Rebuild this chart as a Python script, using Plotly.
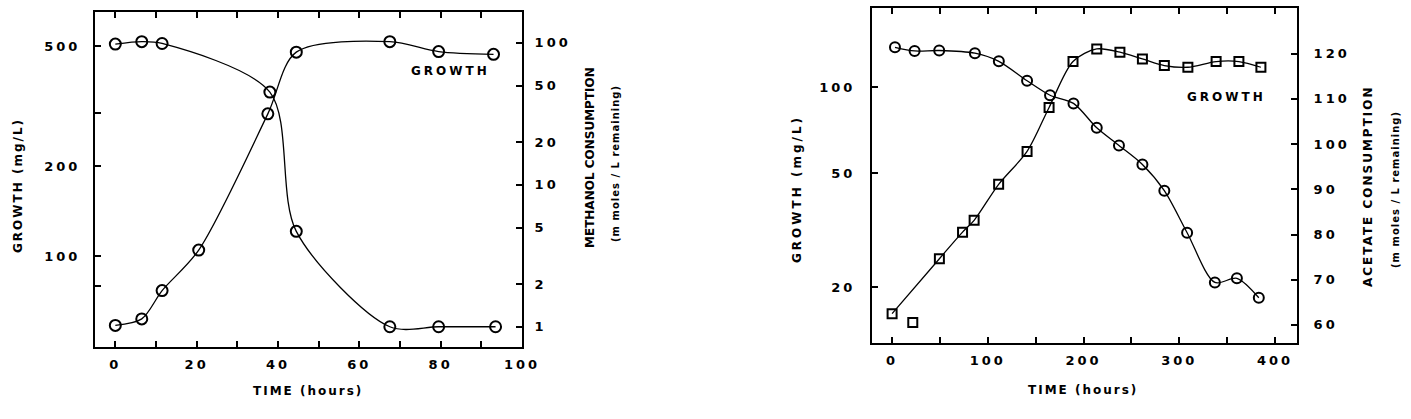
import plotly.graph_objects as go
import math

W, H = 1411, 419

# ---------------- Left panel (methanol) ----------------
t_growth_m = [0, 6.5, 11.5, 20.5, 37.5, 44.5, 67.5, 79.5, 93]
growth_m = [59, 62, 77, 105, 298, 478, 518, 480, 470]
t_methanol = [0, 6.5, 11.5, 38, 44.5, 67.5, 79.5, 93.5]
methanol = [98, 102, 99, 45, 4.7, 1.0, 1.0, 1.0]

# ---------------- Right panel (acetate) ----------------
t_growth_a = [0, 49.4, 73.6, 85.7, 111.3, 141, 164, 189, 213.8, 238, 261.5, 284.4, 309, 338.5, 362.3, 385.3]
growth_a = [16.2, 25.2, 31.2, 34.3, 45.8, 59.7, 85, 123, 136, 132.5, 125.5, 119, 117.4, 122.9, 122.9, 117.4]
t_growth_a_off = [21.6]
growth_a_off = [15.1]
t_acetate = [3, 23.5, 49.2, 86.5, 111.5, 141, 165, 189.5, 213.8, 237, 261.5, 284.4, 308.2, 337.2, 360.2, 383.1]
acetate = [121.4, 120.6, 120.7, 120.1, 118.3, 114, 110.8, 109, 103.6, 99.7, 95.5, 89.7, 80.4, 69.4, 70.3, 66.0]

# tick labels
left_x_ticks = [0, 10, 20, 30, 40, 50, 60, 70, 80, 90, 100]
left_x_labels = ["0", "", "20", "", "40", "", "60", "", "80", "", "100"]
left_growth_ticks = [80, 100, 200, 300, 500]
left_growth_labels = ["", "100", "200", "", "500"]
methanol_ticks = [1, 2, 5, 10, 20, 50, 100]
right_x_ticks = [0, 50, 100, 150, 200, 250, 300, 350, 400]
right_x_labels = ["0", "", "100", "", "200", "", "300", "", "400"]
right_growth_ticks = [20, 50, 100]
acetate_ticks = [60, 70, 80, 90, 100, 110, 120]

FONT = "DejaVu Sans"


def ls(s, px):
    return f'<span style="letter-spacing:{px}px">{s}</span>'


fig = go.Figure()

line_style = dict(color="black", width=1.3, shape="spline", smoothing=0.85)
mk_c = dict(symbol="circle-open", size=11, color="black", line=dict(width=2, color="black"))
mk_c2 = dict(symbol="circle-open", size=10, color="black", line=dict(width=2, color="black"))
mk_s = dict(symbol="square-open", size=9, color="black", line=dict(width=2, color="black"))

fig.add_trace(go.Scatter(x=t_growth_m, y=growth_m, mode="lines+markers", line=line_style,
                         marker=mk_c, xaxis="x", yaxis="y"))
fig.add_trace(go.Scatter(x=t_methanol, y=methanol, mode="lines+markers", line=line_style,
                         marker=mk_c, xaxis="x", yaxis="y2"))
fig.add_trace(go.Scatter(x=t_growth_a, y=growth_a, mode="lines+markers", line=line_style,
                         marker=mk_s, xaxis="x2", yaxis="y3"))
fig.add_trace(go.Scatter(x=t_growth_a_off, y=growth_a_off, mode="markers",
                         marker=mk_s, xaxis="x2", yaxis="y3"))
fig.add_trace(go.Scatter(x=t_acetate, y=acetate, mode="lines+markers", line=line_style,
                         marker=mk_c2, xaxis="x2", yaxis="y4"))

tickfont = dict(family=FONT, size=13, color="black", weight="bold")
common = dict(showline=True, linewidth=2, linecolor="black", ticks="inside", ticklen=6,
              tickwidth=2, tickcolor="black", showgrid=False, zeroline=False,
              tickfont=tickfont, automargin=False)

L_dom_x = [95 / W, 522 / W]
L_dom_y = [1 - 347 / H, 1 - 12 / H]
R_dom_x = [872 / W, 1297 / W]
R_dom_y = [1 - 343 / H, 1 - 8 / H]

fig.update_layout(
    width=W, height=H, margin=dict(l=0, r=0, t=0, b=0),
    paper_bgcolor="white", plot_bgcolor="white", showlegend=False,
    xaxis=dict(common, domain=L_dom_x, range=[-5, 100], anchor="y", mirror="ticks",
               tickvals=left_x_ticks, ticktext=[ls(s, 3) for s in left_x_labels], ticklabelstandoff=4),
    yaxis=dict(common, domain=L_dom_y, type="log", range=[math.log10(50), math.log10(650)],
               anchor="x", tickvals=left_growth_ticks,
               ticktext=[ls(s, 3) for s in left_growth_labels], ticklabelstandoff=10),
    yaxis2=dict(common, type="log", range=[math.log10(0.72), math.log10(165)],
                overlaying="y", side="right", anchor="x", tickvals=methanol_ticks,
                ticktext=[ls(str(v), 3) for v in methanol_ticks], ticklabelstandoff=8),
    xaxis2=dict(common, domain=R_dom_x, range=[-21, 423], anchor="y3", mirror="ticks",
                tickvals=right_x_ticks, ticktext=[ls(s, 3) for s in right_x_labels], ticklabelstandoff=4),
    yaxis3=dict(common, domain=R_dom_y, type="log", range=[math.log10(12.8), math.log10(189)],
                anchor="x2", tickvals=right_growth_ticks,
                ticktext=[ls(str(v), 3) for v in right_growth_ticks], ticklabelstandoff=12),
    yaxis4=dict(common, range=[56, 130.1], overlaying="y3", side="right", anchor="x2",
                tickvals=acetate_ticks, ticktext=[ls(str(v), 3) for v in acetate_ticks],
                ticklabelstandoff=12),
)

afont = dict(family=FONT, size=12, color="black", weight="bold")
sfont = dict(family=FONT, size=10, color="black", weight="bold")


def ann(text, px, py, font, angle=0):
    fig.add_annotation(text=text, x=px / W, y=1 - py / H, xref="paper", yref="paper",
                       showarrow=False, textangle=angle, font=font,
                       xanchor="center", yanchor="middle")


# left panel texts
ann(ls("GROWTH (mg/L)", 2), 18, 186, afont, -90)
ann(ls("METHANOL CONSUMPTION", 0), 590, 158, afont, -90)
ann(ls("(m moles / L remaining)", 1), 615, 164, sfont, -90)
ann(ls("TIME (hours)", 2), 308, 391, afont)
ann(ls("GROWTH", 3), 450, 71, afont)
# right panel texts
ann(ls("GROWTH (mg/L)", 3), 797, 189, afont, -90)
ann(ls("ACETATE CONSUMPTION", 2), 1368, 186, afont, -90)
ann(ls("(m moles / L remaining)", 1), 1395, 190, sfont, -90)
ann(ls("TIME (hours)", 2), 1083, 390, afont)
ann(ls("GROWTH", 3), 1226, 97, afont)

fig.write_html("out.html", config={"displayModeBar": False},
               post_script="document.body.style.margin='0px';")
